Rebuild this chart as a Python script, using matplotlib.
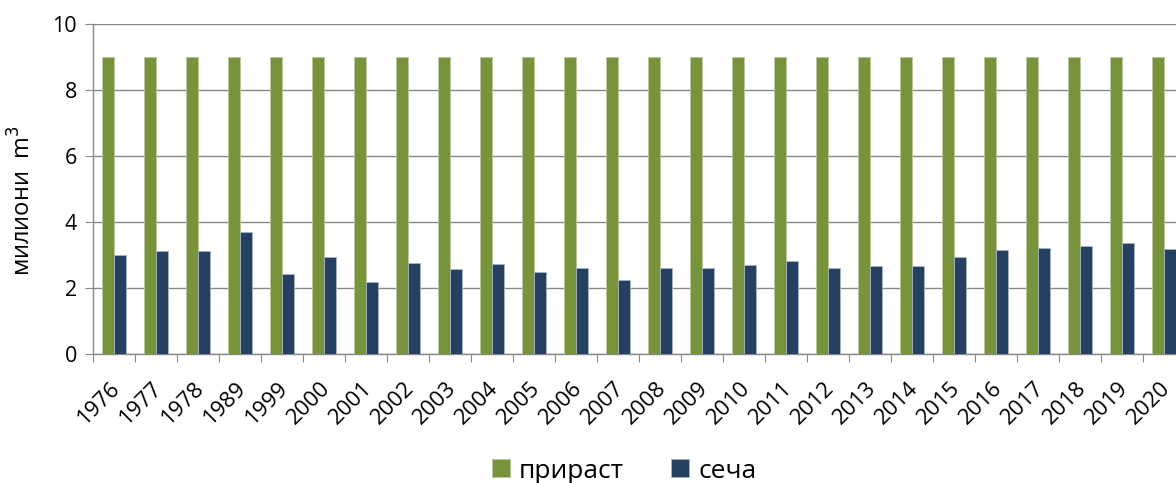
import matplotlib
matplotlib.use("Agg")
import matplotlib.pyplot as plt
import matplotlib.transforms as mtransforms
import numpy as np

years = ["1976", "1977", "1978", "1989", "1999", "2000", "2001", "2002", "2003",
         "2004", "2005", "2006", "2007", "2008", "2009", "2010", "2011", "2012",
         "2013", "2014", "2015", "2016", "2017", "2018", "2019", "2020"]
prirast = [9.0] * 26
secha = [3.00, 3.13, 3.13, 3.70, 2.43, 2.94, 2.19, 2.75, 2.59, 2.72, 2.49,
         2.60, 2.24, 2.60, 2.60, 2.69, 2.83, 2.62, 2.68, 2.68, 2.95, 3.16,
         3.21, 3.26, 3.36, 3.17]

plt.rcParams['font.family'] = ['Open Sans', 'DejaVu Sans']

W, H = 1176, 483
fig = plt.figure(figsize=(W / 100, H / 100), dpi=100)
left, right, top, bottom = 93, 1185, 24, 354
ax = fig.add_axes([left / W, 1 - bottom / H, (right - left) / W, (bottom - top) / H])

x = np.arange(len(years))
bw = 0.28
green = "#77933C"
navy = "#254061"
ax.bar(x - bw / 2, prirast, bw, color=green, edgecolor="#B9C79A", linewidth=0.6,
       label="прираст", zorder=3)
ax.bar(x + bw / 2, secha, bw, color=navy, edgecolor="#A9B4C2", linewidth=0.6,
       label="сеча", zorder=3)

ax.set_xlim(-0.5, len(years) - 0.5)
ax.set_ylim(0, 10)
ax.set_yticks([0, 2, 4, 6, 8, 10])
ax.yaxis.grid(True, color="#888888", linewidth=1.0, zorder=0)
ax.set_axisbelow(True)

for s in ["top", "right"]:
    ax.spines[s].set_visible(False)
for s in ["left", "bottom"]:
    ax.spines[s].set_color("#888888")
    ax.spines[s].set_linewidth(1.0)

ax.set_xticks(np.arange(len(years) + 1) - 0.5, minor=False)
ax.set_xticklabels([])
ax.tick_params(axis="x", which="major", length=5.5, color="#888888", direction="out")
ax.set_xticks(x, minor=True)
ax.set_xticklabels(years, minor=True, rotation=45, ha="right", va="top",
                   rotation_mode="anchor", fontsize=16)
ax.tick_params(axis="x", which="minor", length=0, pad=17)
offset = mtransforms.ScaledTranslation(-4 / 100, 0, fig.dpi_scale_trans)
for lbl in ax.xaxis.get_minorticklabels():
    lbl.set_transform(lbl.get_transform() + offset)
ax.tick_params(axis="y", length=5.5, color="#888888", labelsize=15.5, pad=6)

ax.set_ylabel("милиони  m$^3$", fontsize=17)
ax.yaxis.set_label_coords(-56 / (right - left), 0.465)

fig.legend(loc="center", bbox_to_anchor=(624 / W, 1 - 471 / H), ncol=2,
           frameon=False, fontsize=19, handlelength=0.68, handleheight=0.68,
           handletextpad=0.34, columnspacing=1.8, borderpad=0, borderaxespad=0)

fig.savefig("out.png", dpi=100)
